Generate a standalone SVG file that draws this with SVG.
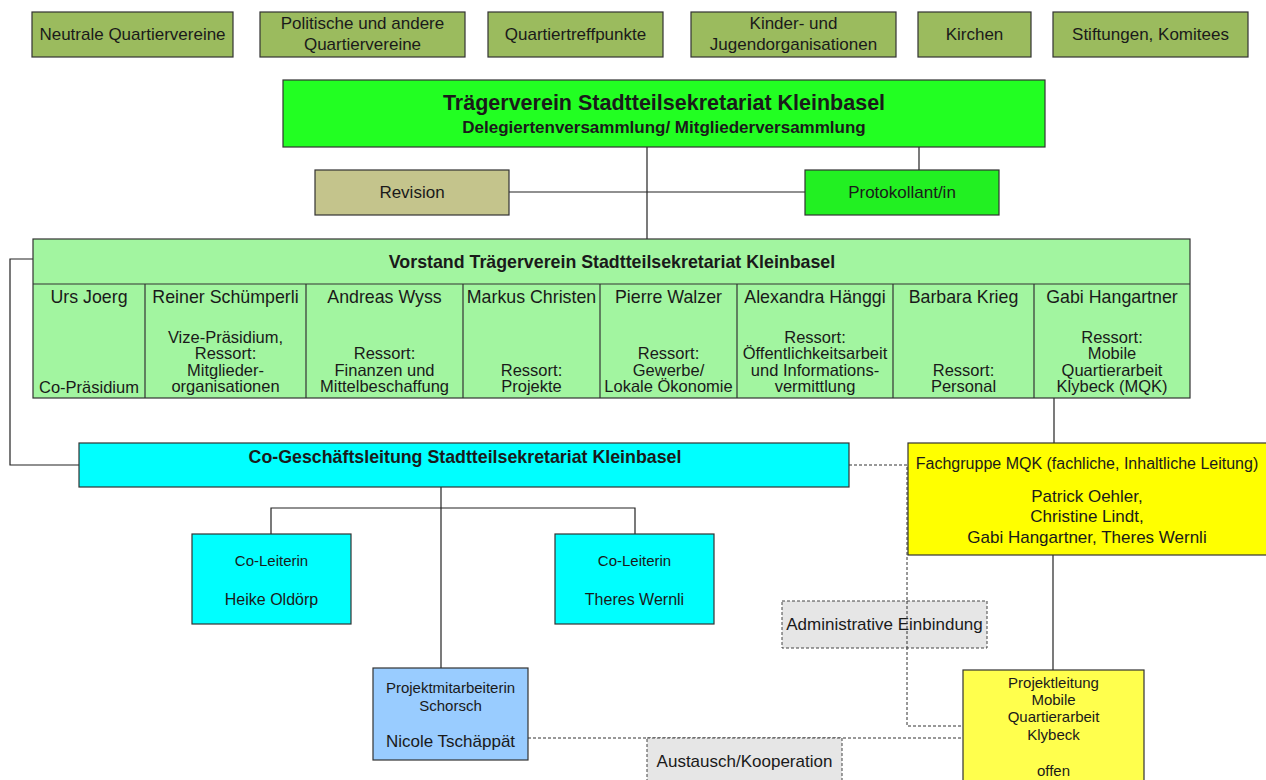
<svg xmlns="http://www.w3.org/2000/svg" width="1266" height="780" viewBox="0 0 1266 780">
<style>
text{font-family:"Liberation Sans",Arial,sans-serif;fill:#1a1a1a;text-anchor:middle}
.b{stroke:#333;stroke-width:1.2}
.top{fill:#9bbb5e}
.t17{font-size:17px}
.t15{font-size:15px}
.nm{font-size:17.8px}
.rs{font-size:16.5px}
.bold{font-weight:bold}
.ln{stroke:#222;stroke-width:1.2;fill:none}
.dash{stroke:#333;stroke-width:1;fill:none;stroke-dasharray:3,2}
.dbox{fill:#e6e6e6;stroke:#444;stroke-width:1;stroke-dasharray:3,2}
</style>
<rect width="1266" height="780" fill="#fff"/>
<g id="connectors">
<line class="ln" x1="647" y1="147" x2="647" y2="239"/>
<line class="ln" x1="919" y1="147" x2="919" y2="170"/>
<line class="ln" x1="509" y1="192" x2="805" y2="192"/>
<polyline class="ln" points="33,259 10,259 10,465 79,465"/>
<line class="ln" x1="1054" y1="398" x2="1054" y2="443"/>
<line class="ln" x1="1053" y1="555" x2="1053" y2="670"/>
<line class="ln" x1="441" y1="487" x2="441" y2="668"/>
<polyline class="ln" points="271,534 271,508 635,508 635,534"/>
<polyline class="dash" points="849,465 907,465 907,726 963,726"/>
<line class="dash" x1="528" y1="738" x2="963" y2="738"/>
</g>
<g id="n-neutrale"><rect class="b top" x="32" y="12" width="201" height="45"/><text class="t17" x="132.5" y="40">Neutrale Quartiervereine</text></g>
<g id="n-politische"><rect class="b top" x="260" y="12" width="205" height="45"/><text class="t17" x="362.5" y="29">Politische und andere</text><text class="t17" x="362.5" y="50">Quartiervereine</text></g>
<g id="n-treff"><rect class="b top" x="488" y="12" width="175" height="45"/><text class="t17" x="575.5" y="40">Quartiertreffpunkte</text></g>
<g id="n-kinder"><rect class="b top" x="691" y="12" width="205" height="45"/><text class="t17" x="793.5" y="29">Kinder- und</text><text class="t17" x="793.5" y="50">Jugendorganisationen</text></g>
<g id="n-kirchen"><rect class="b top" x="918" y="12" width="113" height="45"/><text class="t17" x="974.5" y="40">Kirchen</text></g>
<g id="n-stiftungen"><rect class="b top" x="1053" y="12" width="195" height="45"/><text class="t17" x="1150.5" y="40">Stiftungen, Komitees</text></g>
<g id="n-traeger"><rect class="b" fill="#22ff22" x="283" y="80" width="762" height="67"/><text class="bold" font-size="21.5" x="664" y="110">Trägerverein Stadtteilsekretariat Kleinbasel</text><text class="bold" font-size="17" x="664" y="133">Delegiertenversammlung/ Mitgliederversammlung</text></g>
<g id="n-revision"><rect class="b" fill="#c4c48c" x="315" y="170" width="194" height="45"/><text class="t17" x="412" y="198">Revision</text></g>
<g id="n-protokoll"><rect class="b" fill="#22f022" x="805" y="170" width="194" height="45"/><text class="t17" x="902" y="198">Protokollant/in</text></g>
<g id="n-vorstand">
<rect class="b" fill="#a2f5a0" x="33" y="239" width="1157" height="159"/>
<line class="b" x1="33" y1="284" x2="1190" y2="284"/>
<g class="b"><line x1="145" y1="284" x2="145" y2="398"/><line x1="306" y1="284" x2="306" y2="398"/><line x1="463" y1="284" x2="463" y2="398"/><line x1="600" y1="284" x2="600" y2="398"/><line x1="737" y1="284" x2="737" y2="398"/><line x1="893" y1="284" x2="893" y2="398"/><line x1="1034" y1="284" x2="1034" y2="398"/></g>
<text class="bold" font-size="17.8" x="612" y="268">Vorstand Trägerverein Stadtteilsekretariat Kleinbasel</text>
<g class="nm">
<text x="89" y="303">Urs Joerg</text>
<text x="225.5" y="303">Reiner Schümperli</text>
<text x="384.5" y="303">Andreas Wyss</text>
<text x="531.5" y="303">Markus Christen</text>
<text x="668.5" y="303">Pierre Walzer</text>
<text x="815" y="303">Alexandra Hänggi</text>
<text x="963.5" y="303">Barbara Krieg</text>
<text x="1112" y="303">Gabi Hangartner</text>
</g>
<g class="rs">
<text x="89" y="393">Co-Präsidium</text>
<text x="225.5" y="343"><tspan x="225.5">Vize-Präsidium,</tspan><tspan x="225.5" dy="16.3">Ressort:</tspan><tspan x="225.5" dy="16.3">Mitglieder-</tspan><tspan x="225.5" dy="16.3">organisationen</tspan></text>
<text x="384.5" y="359.3"><tspan x="384.5">Ressort:</tspan><tspan x="384.5" dy="16.3">Finanzen und</tspan><tspan x="384.5" dy="16.3">Mittelbeschaffung</tspan></text>
<text x="531.5" y="375.6"><tspan x="531.5">Ressort:</tspan><tspan x="531.5" dy="16.3">Projekte</tspan></text>
<text x="668.5" y="359.3"><tspan x="668.5">Ressort:</tspan><tspan x="668.5" dy="16.3">Gewerbe/</tspan><tspan x="668.5" dy="16.3">Lokale Ökonomie</tspan></text>
<text x="815" y="343"><tspan x="815">Ressort:</tspan><tspan x="815" dy="16.3">Öffentlichkeitsarbeit</tspan><tspan x="815" dy="16.3">und Informations-</tspan><tspan x="815" dy="16.3">vermittlung</tspan></text>
<text x="963.5" y="375.6"><tspan x="963.5">Ressort:</tspan><tspan x="963.5" dy="16.3">Personal</tspan></text>
<text x="1112" y="343"><tspan x="1112">Ressort:</tspan><tspan x="1112" dy="16.3">Mobile</tspan><tspan x="1112" dy="16.3">Quartierarbeit</tspan><tspan x="1112" dy="16.3">Klybeck (MQK)</tspan></text>
</g>
</g>
<g id="n-cogl"><rect class="b" fill="#00ffff" x="79" y="443" width="770" height="44"/><text class="bold" font-size="17.8" x="465" y="463">Co-Geschäftsleitung Stadtteilsekretariat Kleinbasel</text></g>
<g id="n-fachgruppe"><rect class="b" fill="#ffff00" x="908" y="443" width="362" height="112"/><text font-size="16" x="1087" y="469">Fachgruppe MQK (fachliche, Inhaltliche Leitung)</text><text class="t17" x="1087" y="502">Patrick Oehler,</text><text class="t17" x="1087" y="522">Christine Lindt,</text><text class="t17" x="1087" y="543">Gabi Hangartner, Theres Wernli</text></g>
<g id="n-coleiterin1"><rect class="b" fill="#00ffff" x="192" y="534" width="159" height="90"/><text class="t15" x="271.5" y="566">Co-Leiterin</text><text font-size="16" x="271.5" y="605">Heike Oldörp</text></g>
<g id="n-coleiterin2"><rect class="b" fill="#00ffff" x="555" y="534" width="159" height="90"/><text class="t15" x="634.5" y="566">Co-Leiterin</text><text font-size="16" x="634.5" y="605">Theres Wernli</text></g>
<g id="n-admin"><rect class="dbox" x="782" y="601" width="205" height="47"/><text class="t17" x="884.5" y="630">Administrative Einbindung</text></g>
<line class="dash" x1="907" y1="601" x2="907" y2="648"/>
<g id="n-projektma"><rect class="b" fill="#99ccff" x="373" y="668" width="155" height="92"/><text class="t15" x="450.5" y="693">Projektmitarbeiterin</text><text class="t15" x="450.5" y="711">Schorsch</text><text class="t17" x="450.5" y="747">Nicole Tschäppät</text></g>
<g id="n-austausch"><rect class="dbox" x="647" y="738" width="195" height="52"/><text class="t17" x="744.5" y="767">Austausch/Kooperation</text></g>
<g id="n-projektleitung"><rect class="b" fill="#ffff4d" x="963" y="670" width="181" height="120"/><text class="t15" x="1053.5" y="688">Projektleitung</text><text class="t15" x="1053.5" y="705">Mobile</text><text class="t15" x="1053.5" y="722">Quartierarbeit</text><text class="t15" x="1053.5" y="740">Klybeck</text><text class="t15" x="1053.5" y="776">offen</text></g>
</svg>
